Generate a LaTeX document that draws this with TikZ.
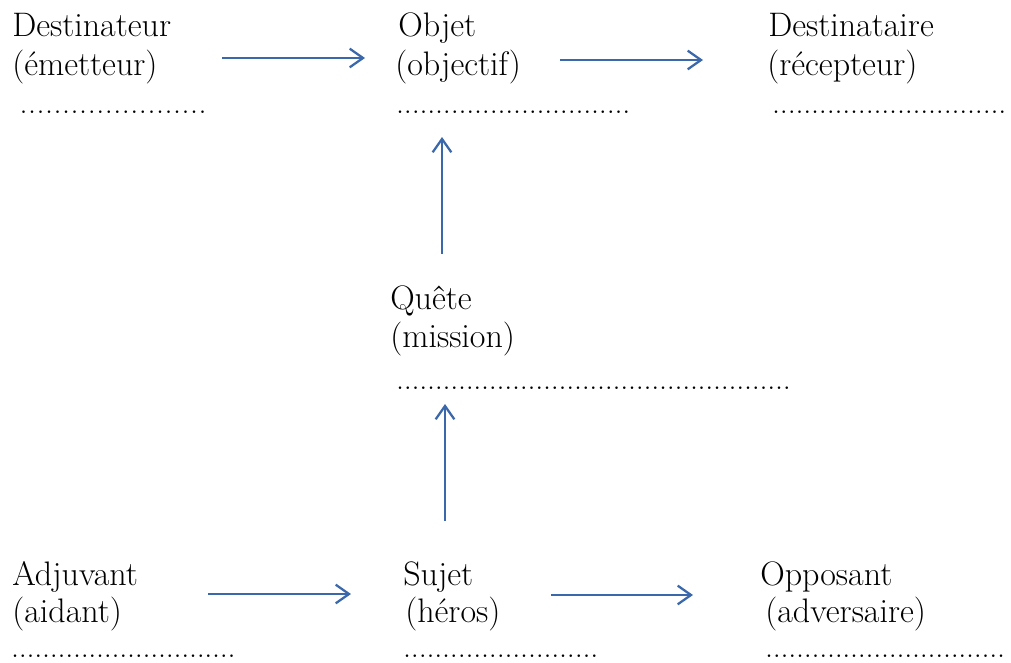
\documentclass[tikz,border=0pt]{standalone}
\usetikzlibrary{arrows.meta}
\definecolor{arrowblue}{HTML}{3A68AA}
% n dots, each in a box of the given width
\newcommand\mydots[2]{\foreach \i in {1,...,#1}{\hbox to #2{\hss.\hss}}}
\begin{document}
\begin{tikzpicture}[x=0.75pt,y=-0.75pt,
  lbl/.style={anchor=base west,inner sep=0pt,font=\fontsize{25.5}{30}\selectfont},
  dl/.style={anchor=base west,inner sep=0pt,font=\fontsize{24}{28}\selectfont},
  conn/.style={draw=arrowblue,line width=1.7pt,-{Straight Barb[length=10pt,width=14pt,line width=1.7pt]}}]
\useasboundingbox (0,0) rectangle (1011,663);
% top row
\node[lbl] (d1) at (12,37) {Destinateur};
\node[lbl] (d2) at (12,76) {(émetteur)};
\node[dl] (d3) at (19,114) {\mydots{22}{6.4pt}};
\node[lbl] (o1) at (398,37) {Objet};
\node[lbl] (o2) at (395,76) {(objectif)};
\node[dl] (o3) at (396,114) {\mydots{30}{5.85pt}};
\node[lbl] (r1) at (768,37) {Destinataire};
\node[lbl] (r2) at (767,76) {(récepteur)};
\node[dl] (r3) at (772,114) {\mydots{30}{5.85pt}};
% middle
\node[lbl] (q1) at (390,310) {Quête};
\node[lbl] (q2) at (390,347) {(mission)};
\node[dl] (q3) at (396,389) {\mydots{51}{5.8pt}};
% bottom row
\node[lbl] (a1) at (12,585) {Adjuvant};
\node[lbl] (a2) at (12,622) {(aidant)};
\node[dl] (a3) at (11,657) {\mydots{29}{5.8pt}};
\node[lbl] (s1) at (403,585) {Sujet};
\node[lbl] (s2) at (405,622) {(héros)};
\node[dl] (s3) at (403,657) {\mydots{25}{5.85pt}};
\node[lbl] (p1) at (760,585) {Opposant};
\node[lbl] (p2) at (765,622) {(adversaire)};
\node[dl] (p3) at (765,657) {\mydots{31}{5.8pt}};
% connector ends
\coordinate (e1s) at (222,58);  \coordinate (e1e) at (365,58);
\coordinate (e2s) at (560,60);  \coordinate (e2e) at (703,60);
\coordinate (e3s) at (442,254); \coordinate (e3e) at (442,137);
\coordinate (e4s) at (445,521); \coordinate (e4e) at (445,404);
\coordinate (e5s) at (208,594); \coordinate (e5e) at (351,594);
\coordinate (e6s) at (551,595); \coordinate (e6e) at (693,595);
\draw[conn] (e1s) -- (e1e);
\draw[conn] (e2s) -- (e2e);
\draw[conn] (e3s) -- (e3e);
\draw[conn] (e4s) -- (e4e);
\draw[conn] (e5s) -- (e5e);
\draw[conn] (e6s) -- (e6e);
\end{tikzpicture}
\end{document}
